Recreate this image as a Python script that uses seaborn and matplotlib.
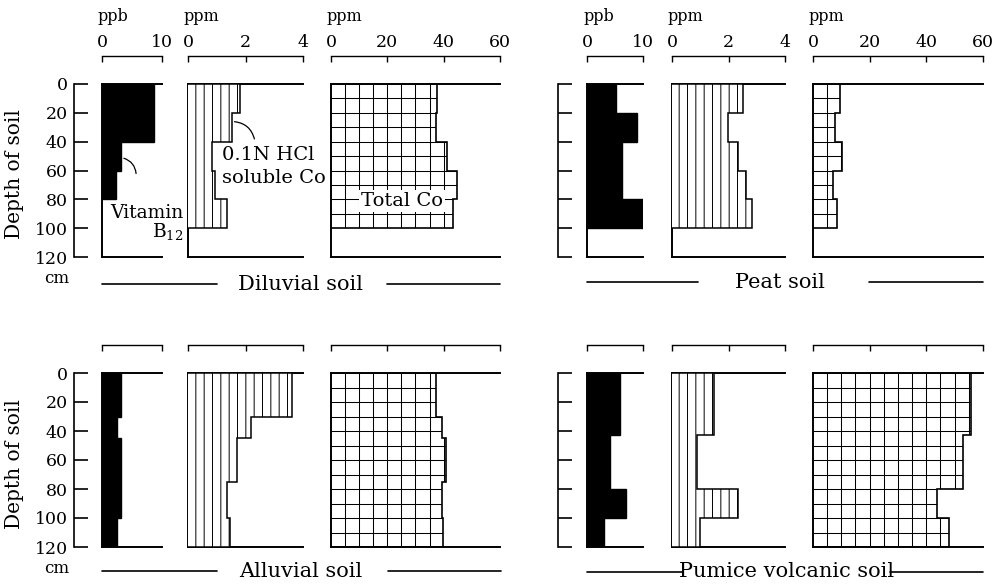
import numpy as np
import matplotlib
matplotlib.use("Agg")
import matplotlib.pyplot as plt
import seaborn as sns
from matplotlib.lines import Line2D

# ---------------- data ----------------
soils = ["Diluvial soil", "Peat soil", "Alluvial soil", "Pumice volcanic soil"]
depth_ticks = [0, 20, 40, 60, 80, 100, 120]

b12_ticks = [0, 10]
hcl_ticks = [0, 2, 4]
total_ticks = [0, 20, 40, 60]

# Diluvial soil
diluvial_b12_depth = [0, 40, 60, 80]
diluvial_b12 = [8.7, 3.2, 2.3]
diluvial_hcl_depth = [0, 20, 40, 60, 80, 100]
diluvial_hcl = [1.8, 1.52, 0.85, 0.95, 1.35]
diluvial_total_depth = [0, 20, 40, 60, 80, 100]
diluvial_total = [37.7, 37.3, 41.1, 44.6, 43.4]

# Peat soil
peat_b12_depth = [0, 20, 40, 80, 100]
peat_b12 = [5.2, 9.0, 6.2, 12.1]
peat_hcl_depth = [0, 20, 40, 60, 80, 100]
peat_hcl = [2.52, 2.0, 2.35, 2.62, 2.83]
peat_total_depth = [0, 20, 40, 60, 80, 100]
peat_total = [9.7, 7.7, 10.4, 7.1, 8.5]

# Alluvial soil
alluvial_b12_depth = [0, 30, 45, 100, 120]
alluvial_b12 = [3.1, 2.45, 3.1, 2.45]
alluvial_hcl_depth = [0, 30, 45, 75, 100, 120]
alluvial_hcl = [3.62, 2.19, 1.70, 1.36, 1.45]
alluvial_total_depth = [0, 30, 45, 75, 100, 120]
alluvial_total = [37.3, 39.3, 40.8, 39.3, 39.6]

# Pumice volcanic soil
pumice_b12_depth = [0, 43, 80, 100, 120]
pumice_b12 = [5.9, 4.1, 7.0, 3.1]
pumice_hcl_depth = [0, 43, 80, 100, 120]
pumice_hcl = [1.5, 0.88, 2.35, 1.0]
pumice_total_depth = [0, 43, 80, 100, 120]
pumice_total = [55.9, 53.0, 43.8, 48.0]

# ---------------- style ----------------
sns.set_theme(style="ticks", rc={
    "axes.edgecolor": "black",
    "axes.facecolor": "none",
    "figure.facecolor": "white",
    "hatch.linewidth": 0.7,
    "hatch.color": "black",
    "text.color": "black",
    "xtick.color": "black",
    "ytick.color": "black",
})
plt.rcParams["font.family"] = ["DejaVu Serif"]
plt.rcParams["mathtext.fontset"] = "dejavuserif"

W, H = 1004, 587
fig = plt.figure(figsize=(W / 100, H / 100), dpi=100)


def fx(p):
    return p / W


def fy(p):
    return 1 - p / H


col_x = {
    "left": {"b12": (102, 162), "hcl": (188, 303), "total": (331, 500)},
    "right": {"b12": (587, 643), "hcl": (672, 785), "total": (813, 983)},
}
row_y = {"top": (84, 257), "bottom": (373, 547)}
depth_axis_x = {"left": 74, "right": 558}

profiles = [
    dict(soil=soils[0], side="left", row="top",
         b12=(diluvial_b12_depth, diluvial_b12),
         hcl=(diluvial_hcl_depth, diluvial_hcl),
         total=(diluvial_total_depth, diluvial_total)),
    dict(soil=soils[1], side="right", row="top",
         b12=(peat_b12_depth, peat_b12),
         hcl=(peat_hcl_depth, peat_hcl),
         total=(peat_total_depth, peat_total)),
    dict(soil=soils[2], side="left", row="bottom",
         b12=(alluvial_b12_depth, alluvial_b12),
         hcl=(alluvial_hcl_depth, alluvial_hcl),
         total=(alluvial_total_depth, alluvial_total)),
    dict(soil=soils[3], side="right", row="bottom",
         b12=(pumice_b12_depth, pumice_b12),
         hcl=(pumice_hcl_depth, pumice_hcl),
         total=(pumice_total_depth, pumice_total)),
]

scales = {"b12": b12_ticks, "hcl": hcl_ticks, "total": total_ticks}
units = {"b12": "ppb", "hcl": "ppm", "total": "ppm"}

TICK_FS = 12.5


def make_panel(kind, x0, x1, y0, y1, show_labels):
    ax = fig.add_axes([fx(x0), fy(y1), (x1 - x0) / W, (y1 - y0) / H])
    ticks = scales[kind]
    ax.set_xlim(ticks[0], ticks[-1])
    ax.set_ylim(120, 0)
    ax.set_xticks([])
    ax.set_yticks([])
    for s in ["top", "bottom", "left"]:
        ax.spines[s].set_visible(True)
        ax.spines[s].set_linewidth(1.4)
    ax.spines["right"].set_visible(False)
    sec = ax.secondary_xaxis(1 + 28 / (y1 - y0))
    sec.set_xticks(ticks)
    sec.set_xticklabels([str(t) for t in ticks] if show_labels else [""] * len(ticks))
    sec.tick_params(axis="x", direction="in", length=4, width=1.0, pad=3.5,
                    labelsize=TICK_FS, top=True, bottom=False,
                    labeltop=True, labelbottom=False)
    for sp in sec.spines.values():
        sp.set_linewidth(1.0)
    if show_labels:
        fig.text(fx(x0 - 4), fy(21), units[kind], fontsize=11.5,
                 ha="left", va="baseline")
    return ax


def depth_axis(x, y0, y1, labels):
    ax = fig.add_axes([fx(x), fy(y1), 1 / W, (y1 - y0) / H])
    ax.set_ylim(120, 0)
    ax.set_yticks(depth_ticks)
    ax.set_yticklabels([str(t) for t in depth_ticks] if labels else [""] * len(depth_ticks))
    ax.set_xticks([])
    for s in ["top", "right", "bottom"]:
        ax.spines[s].set_visible(False)
    ax.spines["left"].set_linewidth(1.2)
    ax.tick_params(axis="y", direction="in", length=10, width=1.2, pad=4.5,
                   labelsize=TICK_FS, left=True, right=False)
    return ax


panel_axes = {}
for prof in profiles:
    side, row = prof["side"], prof["row"]
    y0, y1 = row_y[row]
    top_row = row == "top"
    axs = {}
    for kind in ["b12", "hcl", "total"]:
        x0, x1 = col_x[side][kind]
        ax = make_panel(kind, x0, x1, y0, y1, top_row)
        edges, vals = prof[kind]
        if kind == "b12":
            ax.stairs(vals, edges, orientation="horizontal", baseline=0, fill=True,
                      facecolor="black", edgecolor="black", linewidth=1.0, zorder=3)
        elif kind == "hcl":
            ax.stairs(vals, edges, orientation="horizontal", baseline=0, fill=True,
                      facecolor="white", edgecolor="black", linewidth=1.1,
                      hatch="||", zorder=3)
        else:
            patch = ax.stairs(vals, edges, orientation="horizontal", baseline=0,
                              fill=True, facecolor="none", edgecolor="black",
                              linewidth=1.2, zorder=3)
            vl = ax.vlines(np.arange(5, 60, 5), 0, 120, colors="black",
                           linewidth=0.75, zorder=2)
            hl = ax.hlines(np.arange(10, 120, 10), 0, 60, colors="black",
                           linewidth=0.75, zorder=2)
            vl.set_clip_path(patch)
            hl.set_clip_path(patch)
        axs[kind] = ax
    panel_axes[prof["soil"]] = axs

    depth_axis(depth_axis_x[side], y0, y1, labels=(side == "left"))

    if side == "left":
        ymid = (y0 + y1) / 2 + 4
        fig.text(fx(15), fy(ymid), "Depth of soil", rotation=90, fontsize=14.5,
                 ha="center", va="center")
        fig.text(fx(57), fy(y1 + 26), "cm", fontsize=12, ha="center", va="baseline")

# soil titles with side rules
title_specs = [
    (soils[0], 300, 290, (102, 217), (387, 500), 284),
    (soils[1], 780, 288, (587, 698), (869, 983), 282),
    (soils[2], 301, 577, (102, 217), (388, 501), 571),
    (soils[3], 787, 577, (587, 683), (890, 983), 572),
]
for name, cx, base, l1, l2, ly in title_specs:
    fig.text(fx(cx), fy(base), name, fontsize=15, ha="center", va="baseline")
    for a, b in (l1, l2):
        fig.add_artist(Line2D([fx(a), fx(b)], [fy(ly), fy(ly)],
                              color="black", linewidth=1.2))

# annotations on the diluvial profile
dil = panel_axes[soils[0]]
ax_b = dil["b12"]
ax_b.annotate("", xy=(diluvial_b12[1], 51), xytext=(5.7, 64),
              arrowprops=dict(arrowstyle="-", lw=0.9, color="black",
                              connectionstyle="arc3,rad=0.4"))
ax_b.text(13.5, 89.5, "Vitamin", fontsize=13.5, ha="right", va="center",
          clip_on=False)
ax_b.text(13.5, 102.5, r"B$_{12}$", fontsize=13.5, ha="right", va="center",
          clip_on=False)

ax_h = dil["hcl"]
ax_h.annotate("", xy=(diluvial_hcl[1], 26), xytext=(2.33, 40),
              arrowprops=dict(arrowstyle="-", lw=0.9, color="black",
                              connectionstyle="arc3,rad=0.4"))
ax_h.text(1.18, 49, "0.1N HCl", fontsize=14, ha="left", va="center", clip_on=False)
ax_h.text(1.18, 65, "soluble Co", fontsize=14, ha="left", va="center", clip_on=False)

ax_t = dil["total"]
ax_t.text(25.2, 81, "Total Co", fontsize=14, ha="center", va="center", zorder=5,
          bbox=dict(facecolor="white", edgecolor="none", pad=1.5))

fig.savefig("out.png", dpi=100)
